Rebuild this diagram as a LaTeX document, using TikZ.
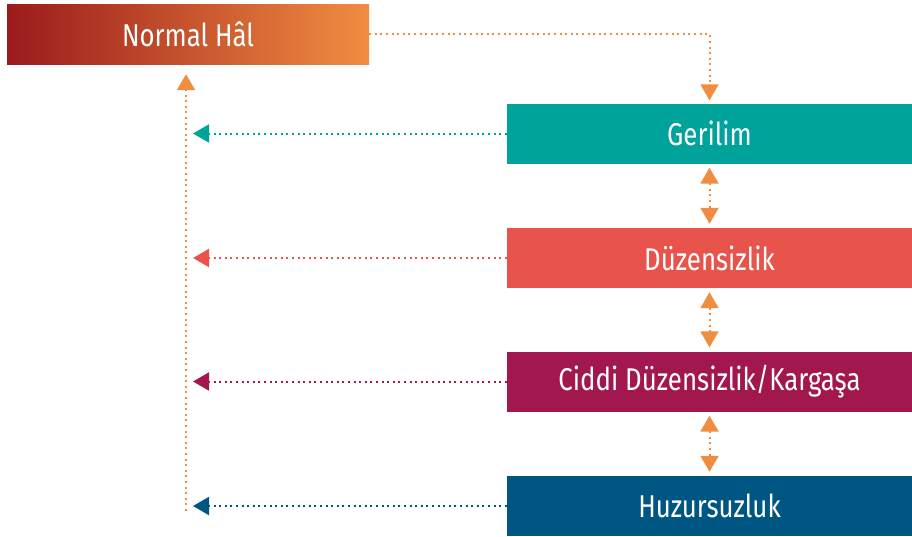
\documentclass[tikz,border=0pt]{standalone}
\usepackage{fontspec}
\setmainfont{Fira Sans}[FakeStretch=0.82]
\usepackage{tikz}
\usetikzlibrary{arrows.meta}

\definecolor{hdark}{HTML}{9B1B1B}
\definecolor{horange}{HTML}{F18D40}
\definecolor{hteal}{HTML}{00A39A}
\definecolor{hred}{HTML}{E8544C}
\definecolor{hplum}{HTML}{A3174F}
\definecolor{hblue}{HTML}{005682}

\begin{document}
\begin{tikzpicture}[x=1pt, y=-1pt,
	stage/.style={minimum width=405pt, minimum height=60pt, inner sep=0pt, text=white, font=\fontsize{31.5}{36}\selectfont},
	dots/.style={line width=2pt, dash pattern=on 2pt off 3.6pt},
	tip/.style={-{Triangle[length=16pt,width=18pt]}},
	both/.style={{Triangle[length=16pt,width=18pt]}-{Triangle[length=16pt,width=18pt]}}]
	\useasboundingbox[fill=white] (0,0) rectangle (912,536);
	\node (Normal) [stage, minimum width=362pt, left color=hdark, right color=horange] at (188,34) {\raisebox{-2pt}{Normal Hâl}};
	\node (Gerilim) [stage, fill=hteal] at (709.5,133.5) {\raisebox{-2pt}{Gerilim}};
	\node (Duzensizlik) [stage, fill=hred] at (709.5,258) {\raisebox{-2pt}{Düzensizlik}};
	\node (Ciddi) [stage, fill=hplum] at (709.5,381.5) {\raisebox{-2pt}{Ciddi Düzensizlik/Kargaşa}};
	\node (Huzursuzluk) [stage, fill=hblue] at (709.5,506) {\raisebox{-2pt}{Huzursuzluk}};
	\coordinate (back) at (193,0);
	\coordinate (bottom) at (186,511);
	\draw[dots, tip, color=horange, shorten >=3pt] (Normal.east) -| (Gerilim.north);
	\draw[dots, both, color=horange, shorten >=4pt, shorten <=4pt] (Gerilim.south) -- (Duzensizlik.north);
	\draw[dots, both, color=horange, shorten >=4pt, shorten <=4pt] (Duzensizlik.south) -- (Ciddi.north);
	\draw[dots, both, color=horange, shorten >=4pt, shorten <=4pt] (Ciddi.south) -- (Huzursuzluk.north);
	\draw[dots, tip, color=horange, shorten >=10pt] (bottom) -- (bottom |- Normal.south);
	\draw[dots, tip, color=hteal] (Gerilim.west) -- (Gerilim.west -| back);
	\draw[dots, tip, color=hred] (Duzensizlik.west) -- (Duzensizlik.west -| back);
	\draw[dots, tip, color=hplum] (Ciddi.west) -- (Ciddi.west -| back);
	\draw[dots, tip, color=hblue] (Huzursuzluk.west) -- (Huzursuzluk.west -| back);
\end{tikzpicture}
\end{document}
